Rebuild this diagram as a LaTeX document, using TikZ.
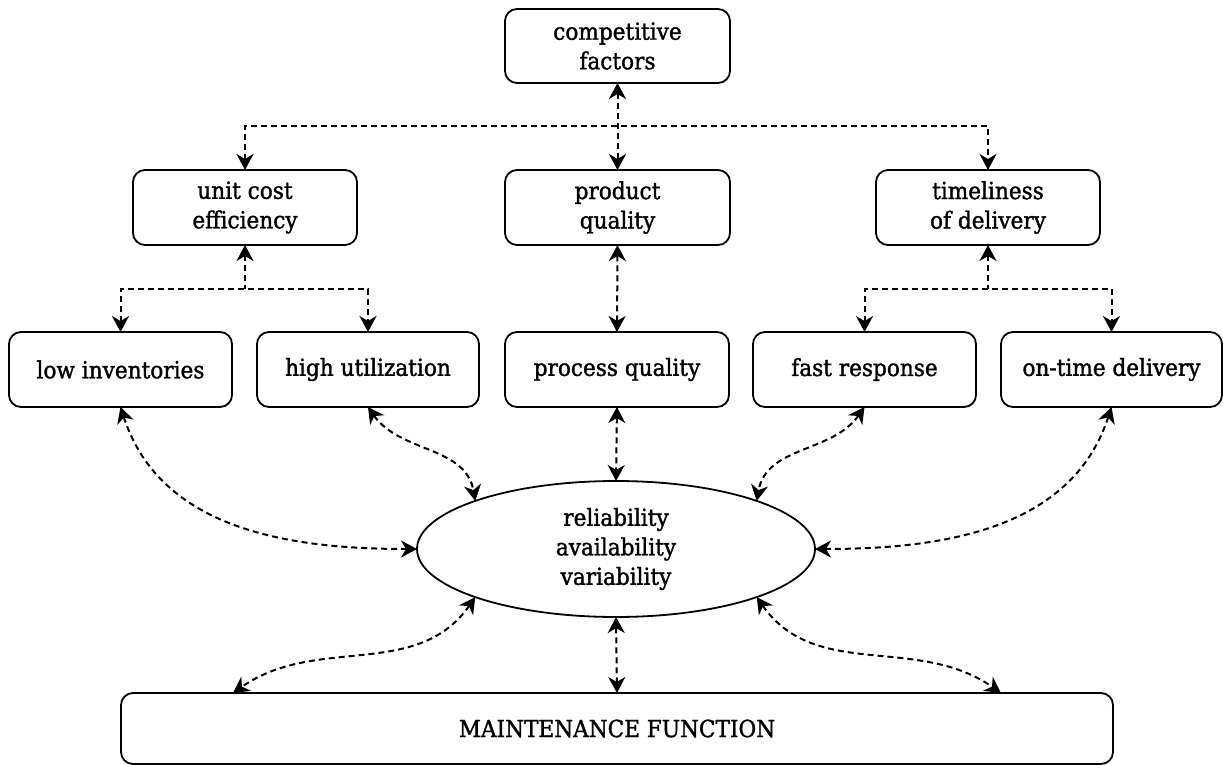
\documentclass[tikz,border=0pt]{standalone}
\usepackage{fontspec}
\setmainfont{DejaVu Serif}[FakeStretch=0.92,FakeBold=1.4]
\usetikzlibrary{arrows.meta,shapes.geometric}
\tikzset{
  tip/.tip={Stealth[length=16pt,width=17pt,inset=5pt]},
  box/.style={draw,line width=1.8pt,rounded corners=12pt,minimum width=224pt,
    minimum height=75pt,inner sep=0pt,align=center,outer sep=0pt},
  link/.style={tip-tip,dash pattern=on 6pt off 4pt,line width=2pt},
  uplink/.style={tip-,dash pattern=on 6pt off 4pt,line width=2pt}
}
\begin{document}
\begin{tikzpicture}[x=1pt,y=1pt,
  every node/.style={font=\fontsize{23.5}{29.5}\selectfont}]
\useasboundingbox (0,0) rectangle (1223,-765);

% top level
\node[box,minimum width=225pt,minimum height=74pt] (cf) at (617.5,-46) {competitive\\factors};

% second level
\node[box] (uce) at (245,-207.5) {unit cost\\efficiency};
\node[box,minimum width=225pt] (pq) at (617.5,-207.5) {product\\quality};
\node[box] (tod) at (988,-207.5) {timeliness\\of delivery};

% third level
\node[box,minimum width=223pt] (li) at (120.5,-369.5) {low inventories};
\node[box,minimum width=222pt] (hu) at (368,-369.5) {high utilization};
\node[box] (prq) at (617,-369.5) {process quality};
\node[box,minimum width=223pt] (fr) at (864.5,-369.5) {fast response};
\node[box,minimum width=221pt] (otd) at (1111.5,-369.5) {on-time delivery};

% central ellipse
\node[draw,ellipse,line width=1.8pt,minimum width=398pt,minimum height=136pt,
  inner sep=0pt,outer sep=0pt,align=center] (ell) at (616,-549)
  {reliability\\availability\\variability};

% maintenance bar
\node[box,minimum width=992pt,minimum height=71pt] (mf) at (617,-728.5) {MAINTENANCE FUNCTION};

% branching points
\coordinate (b1) at (617.5,-126);
\coordinate (b2) at (245,-289);
\coordinate (b3) at (988,-289);
\coordinate (m1) at (233,-693);
\coordinate (m2) at (1001,-693);

% tree connectors
\draw[link] (cf.south) -- (pq.north);
\draw[link] (uce.north) |- (b1) -| (tod.north);
\draw[uplink] (uce.south) -- (b2);
\draw[link] (li.north) |- (b2) -| (hu.north);
\draw[link] (pq.south) -- (prq.north);
\draw[uplink] (tod.south) -- (b3);
\draw[link] (fr.north) |- (b3) -| (otd.north);

% links into the ellipse
\draw[link] (li.south) to[out=-72,in=180] (ell.west);
\draw[link] (hu.south) to[out=-55,in=100] (ell.north west);
\draw[link] (prq.south) -- (ell.north);
\draw[link] (fr.south) to[out=-125,in=80] (ell.north east);
\draw[link] (otd.south) to[out=-108,in=0] (ell.east);

% links to the maintenance bar
\draw[link] (ell.south west) to[out=-125,in=35] (m1);
\draw[link] (ell.south) -- (mf.north);
\draw[link] (ell.south east) to[out=-55,in=145] (m2);
\end{tikzpicture}
\end{document}
